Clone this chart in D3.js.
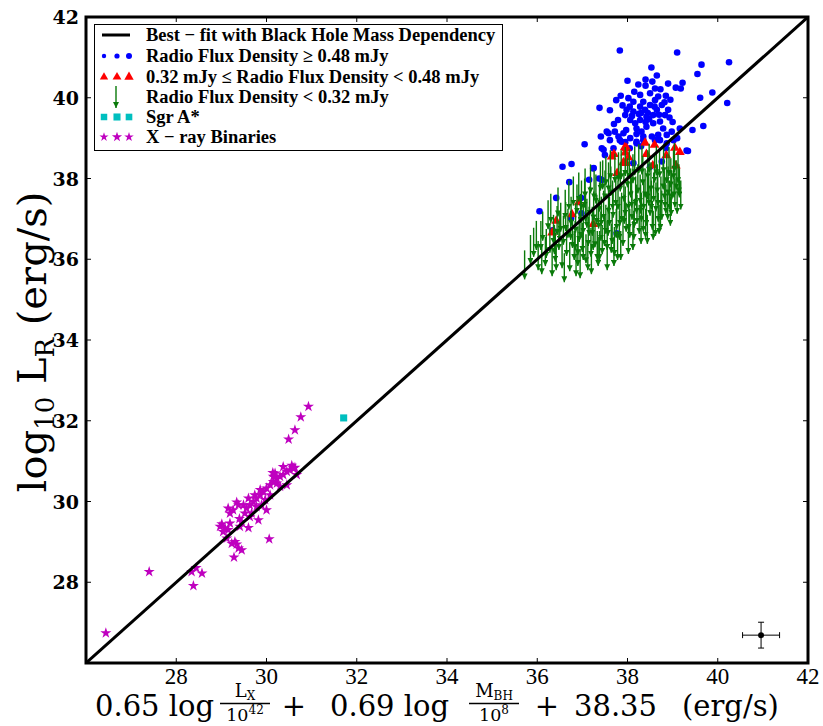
<!DOCTYPE html>
<html>
<head>
<meta charset="utf-8">
<script src="https://cdnjs.cloudflare.com/ajax/libs/d3/7.8.5/d3.min.js"></script>
<style>
  body { margin: 0; background: #fff; }
  svg { display: block; }
</style>
</head>
<body>
<div id="chart"></div>
<script>
// axis ticks
var xTicks = [28, 30, 32, 34, 36, 38, 40, 42];
var yTicks = [28, 30, 32, 34, 36, 38, 40, 42];

// best-fit line end points
var fitLine = [[26, 26], [42, 42]];

// Radio flux density >= 0.48 mJy
var brightPts = [
  [37.83, 41.17], [39.10, 41.12], [38.53, 40.75], [39.64, 40.82], [39.55, 40.59], [39.88, 40.13],
  [38.00, 40.42], [38.24, 40.33], [38.40, 40.45], [39.22, 40.37], [39.07, 40.25], [39.18, 40.23],
  [39.61, 40.00], [39.68, 39.30], [39.44, 39.20], [39.34, 38.68], [37.05, 38.85], [37.38, 39.75],
  [37.61, 39.69], [37.75, 39.94], [37.89, 39.81], [38.73, 40.21], [38.82, 39.89], [38.93, 39.51],
  [37.41, 39.04], [37.43, 38.75], [37.58, 39.12], [37.79, 39.45], [37.97, 39.20], [38.02, 39.99],
  [38.13, 39.90], [38.28, 39.78], [38.39, 39.70], [38.50, 39.82], [38.61, 39.94], [38.68, 40.03],
  [38.76, 39.82], [38.65, 39.70], [38.57, 39.57], [38.42, 39.53], [38.28, 39.45], [38.17, 39.37],
  [38.06, 39.45], [37.95, 39.57], [37.98, 39.70], [38.13, 39.66], [38.20, 39.24], [38.31, 39.16],
  [38.42, 39.28], [38.57, 39.37], [38.72, 39.41], [38.79, 39.24], [38.68, 39.08], [38.54, 39.04],
  [38.35, 38.95], [38.20, 38.91], [38.06, 39.00], [37.91, 39.12], [37.72, 39.16], [37.61, 38.95],
  [37.87, 38.91], [38.72, 38.95], [38.87, 38.87], [39.02, 38.95], [38.83, 39.57], [38.98, 39.16],
  [38.50, 40.11], [38.61, 40.23], [38.35, 39.90], [38.28, 40.07], [39.16, 39.24], [37.80, 39.04],
  [36.05, 37.19], [36.42, 37.52], [36.71, 37.91], [36.56, 38.29], [36.76, 38.36], [37.25, 38.26],
  [37.15, 37.97], [37.76, 36.64], [36.97, 37.52], [40.25, 40.88], [40.21, 39.87], [37.24, 38.25],
  [36.98, 37.14], [36.75, 37.01], [36.34, 36.72], [37.37, 38.00], [37.47, 38.71], [37.54, 39.16],
  [37.50, 38.58], [37.69, 38.75], [37.83, 38.95], [38.20, 38.87], [38.35, 39.04], [38.61, 38.95],
  [38.87, 39.08], [39.31, 38.69], [37.43, 37.96], [38.13, 38.38], [38.50, 38.29], [38.76, 38.42],
  [38.45, 39.62], [38.05, 39.78], [38.70, 39.58], [38.25, 39.60], [38.90, 39.70], [38.40, 39.40],
  [38.10, 39.55], [38.30, 39.62], [38.48, 39.47], [38.60, 39.78], [38.85, 40.05], [38.15, 40.15],
  [37.85, 40.05], [38.95, 39.95], [39.00, 39.40], [38.40, 40.30], [38.55, 40.40], [38.90, 40.35],
  [38.20, 39.10], [37.70, 39.35], [38.05, 38.75], [38.30, 38.80], [38.85, 38.75], [39.10, 39.00],
  [38.65, 40.55], [37.95, 38.90]
];

// 0.32 mJy <= radio flux density < 0.48 mJy
var midPts = [
  [36.42, 36.95], [37.94, 38.77], [37.95, 38.64], [38.39, 38.88], [38.60, 38.83], [38.42, 38.60],
  [39.05, 38.76], [39.16, 38.65], [38.86, 38.57], [39.07, 38.32], [37.65, 38.54], [37.97, 38.38],
  [38.56, 38.32], [36.92, 37.41], [36.77, 37.11], [37.77, 38.13], [36.33, 36.66], [37.24, 36.87],
  [37.70, 38.60], [37.91, 38.40], [37.98, 38.75], [38.02, 38.52]
];

// radio flux density < 0.32 mJy (upper limits, arrow starts)
var limitPts = [
  [35.72, 36.22], [35.85, 36.60], [35.92, 36.78], [36.02, 36.45], [36.08, 36.95], [36.12, 37.18],
  [36.18, 36.55], [36.24, 37.46], [36.28, 36.88], [36.33, 36.30], [36.36, 37.10], [36.40, 36.66],
  [36.44, 37.32], [36.48, 36.95], [36.52, 37.40], [36.55, 36.50], [36.58, 37.08], [36.62, 37.72],
  [36.65, 36.80], [36.68, 37.25], [36.72, 36.42], [36.75, 37.55], [36.78, 37.00], [36.82, 36.70],
  [36.85, 37.38], [36.88, 37.85], [36.90, 36.55], [36.93, 37.15], [36.96, 37.62], [37.00, 36.90],
  [37.02, 37.35], [37.05, 38.00], [37.08, 36.62], [37.10, 37.50], [37.13, 37.05], [37.16, 37.80],
  [37.19, 36.78], [37.22, 37.30], [37.25, 37.68], [37.28, 37.02], [37.30, 38.10], [37.33, 36.70],
  [37.36, 37.48], [37.38, 37.90], [37.41, 37.18], [37.44, 36.85], [37.47, 37.70], [37.50, 38.20],
  [37.52, 37.35], [37.55, 36.95], [37.58, 37.85], [37.60, 37.55], [37.63, 38.30], [37.66, 37.10],
  [37.68, 37.75], [37.71, 36.80], [37.74, 38.05], [37.76, 37.45], [37.79, 37.95], [37.82, 37.20],
  [37.84, 38.40], [37.87, 37.65], [37.90, 37.05], [37.92, 38.15], [37.95, 37.80], [37.97, 37.40],
  [38.00, 38.50], [38.02, 37.95], [38.05, 37.25], [38.07, 38.25], [38.10, 37.70], [38.12, 38.60],
  [38.15, 37.50], [38.18, 38.05], [38.20, 37.85], [38.23, 38.35], [38.26, 37.35], [38.28, 38.10],
  [38.31, 37.65], [38.34, 38.55], [38.36, 37.95], [38.39, 38.25], [38.42, 37.55], [38.45, 38.70],
  [38.47, 38.05], [38.50, 37.80], [38.52, 38.40], [38.55, 37.45], [38.58, 38.15], [38.60, 38.62],
  [38.63, 37.90], [38.66, 38.35], [38.68, 37.65], [38.71, 38.75], [38.74, 38.05], [38.76, 37.70],
  [38.79, 38.45], [38.82, 38.20], [38.85, 37.85], [38.87, 38.60], [38.90, 38.30], [38.93, 37.95],
  [38.96, 38.50], [38.98, 38.20], [39.02, 38.70], [39.05, 38.00], [39.08, 38.45], [39.12, 38.60],
  [39.15, 38.25], [39.18, 37.95], [37.70, 36.55], [37.85, 36.70], [37.55, 36.45], [38.02, 36.85],
  [38.30, 37.10], [38.62, 37.30], [38.95, 37.55], [36.95, 36.25], [37.20, 36.35], [36.60, 36.15],
  [37.62, 38.70], [37.95, 38.78], [38.25, 38.85], [37.80, 38.65], [37.45, 38.45], [36.98, 37.95],
  [37.12, 36.45], [37.35, 36.55], [37.02, 36.70], [36.86, 36.30], [37.64, 36.88], [38.40, 37.25],
  [36.30, 37.62], [36.46, 37.78], [36.70, 37.95], [36.80, 38.05], [36.92, 38.15], [37.06, 38.25],
  [37.18, 38.35], [37.26, 38.20], [37.40, 38.42], [37.52, 38.55], [37.58, 38.40], [37.72, 38.62],
  [37.86, 38.70], [38.04, 38.72], [38.16, 38.80], [38.32, 38.82], [38.48, 38.86], [38.64, 38.80],
  [38.80, 38.85], [38.92, 38.78], [39.04, 38.88], [36.38, 36.85], [36.50, 37.15], [36.63, 37.42],
  [36.74, 37.20], [36.84, 36.95], [36.97, 37.25], [37.07, 37.65], [37.15, 37.30], [37.24, 36.95],
  [37.32, 37.60], [37.42, 37.55], [37.49, 37.05], [37.57, 37.30], [37.67, 37.95], [37.75, 37.25],
  [37.83, 37.55], [37.93, 37.60], [38.03, 37.45], [38.09, 38.00], [38.14, 37.20], [38.21, 37.60],
  [38.29, 37.85], [38.35, 37.40], [38.44, 38.20], [38.53, 37.95], [38.57, 37.20], [38.67, 38.05],
  [38.73, 37.45], [38.83, 38.00], [38.89, 37.70], [38.97, 37.80], [39.03, 38.25], [39.10, 37.85],
  [39.14, 38.35], [36.20, 36.75], [36.10, 36.35], [35.98, 36.95], [36.42, 36.45], [36.90, 36.82],
  [37.38, 36.70], [37.78, 36.70], [38.12, 36.95], [38.44, 37.10], [38.70, 37.35]
];
var limitLength = 0.72;

// Sgr A*
var sgrPts = [[31.71, 32.07]];

// X-ray binaries
var xrbPts = [
  [26.44, 26.74], [27.40, 28.26], [28.38, 27.91], [28.34, 28.26], [28.57, 28.22], [28.44, 28.36],
  [30.93, 32.35], [30.76, 32.09], [30.63, 31.77], [30.49, 31.54], [30.06, 29.07], [29.28, 28.62],
  [29.01, 29.44], [29.04, 29.25], [29.15, 29.30], [29.19, 29.71], [29.26, 29.79], [29.34, 29.98],
  [29.40, 29.57], [29.45, 29.50], [29.56, 29.83], [29.63, 29.91], [29.71, 29.99], [29.78, 30.08],
  [29.86, 30.16], [29.93, 30.24], [30.00, 30.33], [30.08, 30.41], [30.15, 30.49], [30.23, 30.57],
  [30.30, 30.62], [30.37, 30.66], [30.45, 30.74], [30.52, 30.78], [30.60, 30.82], [30.63, 30.84],
  [30.67, 30.66], [30.19, 30.70], [30.23, 30.45], [30.30, 30.37], [30.45, 30.41], [30.00, 29.79],
  [29.82, 29.54], [29.60, 29.35], [29.41, 29.38], [29.30, 29.00], [29.38, 28.84], [29.45, 28.80],
  [29.34, 28.94], [29.23, 28.96], [29.12, 29.09], [29.78, 29.87], [29.67, 29.71], [29.52, 29.71],
  [29.49, 29.91], [29.86, 30.29], [30.08, 30.16], [29.97, 30.04], [29.60, 30.08], [29.74, 30.16],
  [30.37, 30.86], [30.56, 30.89], [30.15, 30.62], [29.38, 29.91], [29.63, 29.62], [29.89, 29.91],
  [29.19, 29.46], [29.08, 29.34], [28.97, 29.38], [29.15, 29.83], [30.14, 30.71], [30.59, 30.82]
];

// typical uncertainty marker
var errPt = [40.96, 26.69];
var errX = 0.41;
var errY = 0.32;

var legendLabels = [
  "Best \u2212 fit with Black Hole Mass Dependency",
  "Radio Flux Density \u2265 0.48 mJy",
  "0.32 mJy \u2264 Radio Flux Density < 0.48 mJy",
  "Radio Flux Density < 0.32 mJy",
  "Sgr A*",
  "X \u2212 ray  Binaries"
];

var width = 823, height = 726;
var margin = {top: 17, right: 15, bottom: 63, left: 86};

var svg = d3.select("#chart").append("svg")
    .attr("width", width).attr("height", height);

var x = d3.scaleLinear().domain([26, 42]).range([margin.left, width - margin.right]);
var y = d3.scaleLinear().domain([26, 42]).range([height - margin.bottom, margin.top]);

var defs = svg.append("defs");
defs.append("marker").attr("id", "head")
    .attr("markerUnits", "userSpaceOnUse")
    .attr("markerWidth", 6).attr("markerHeight", 6)
    .attr("viewBox", "0 0 6 6").attr("refX", 6).attr("refY", 3)
    .attr("orient", "auto")
    .append("path").attr("d", "M0,0 L6,3 L0,6 z").attr("fill", "#0a7a0a");
defs.append("clipPath").attr("id", "plotClip").append("rect")
    .attr("x", x(26)).attr("y", y(42)).attr("width", x(42) - x(26)).attr("height", y(26) - y(42));

var plot = svg.append("g").attr("clip-path", "url(#plotClip)");

var blue = "#0000ff", red = "#ff0000", green = "#0a7a0a", cyan = "#00bfbf", magenta = "#bf00bf";

// blue dots
plot.selectAll(".bright").data(brightPts).enter().append("circle")
    .attr("cx", function(d) { return x(d[0]); })
    .attr("cy", function(d) { return y(d[1]); })
    .attr("r", 3.3).attr("fill", blue);

// red triangles
var tri = d3.symbol().type(d3.symbolTriangle).size(42);
plot.selectAll(".mid").data(midPts).enter().append("path")
    .attr("d", tri)
    .attr("transform", function(d) { return "translate(" + x(d[0]) + "," + y(d[1]) + ")"; })
    .attr("fill", red);

// green upper limit arrows
plot.selectAll(".lim").data(limitPts).enter().append("line")
    .attr("x1", function(d) { return x(d[0]); })
    .attr("x2", function(d) { return x(d[0]); })
    .attr("y1", function(d) { return y(d[1]); })
    .attr("y2", function(d) { return y(d[1] - limitLength); })
    .attr("stroke", green).attr("stroke-width", 1.4)
    .attr("marker-end", "url(#head)");

// Sgr A*
var sq = d3.symbol().type(d3.symbolSquare).size(50);
plot.selectAll(".sgr").data(sgrPts).enter().append("path")
    .attr("d", sq)
    .attr("transform", function(d) { return "translate(" + x(d[0]) + "," + y(d[1]) + ")"; })
    .attr("fill", cyan);

// x-ray binaries
var star = d3.symbol().type(d3.symbolStar).size(38);
plot.selectAll(".xrb").data(xrbPts).enter().append("path")
    .attr("d", star)
    .attr("transform", function(d) { return "translate(" + x(d[0]) + "," + y(d[1]) + ")"; })
    .attr("fill", magenta);

// best fit line
plot.append("line")
    .attr("x1", x(fitLine[0][0])).attr("y1", y(fitLine[0][1]))
    .attr("x2", x(fitLine[1][0])).attr("y2", y(fitLine[1][1]))
    .attr("stroke", "#000").attr("stroke-width", 3);

// error sample
var eg = svg.append("g").attr("stroke", "#000").attr("stroke-width", 1);
eg.append("line").attr("x1", x(errPt[0] - errX)).attr("x2", x(errPt[0] + errX))
    .attr("y1", y(errPt[1])).attr("y2", y(errPt[1]));
eg.append("line").attr("x1", x(errPt[0])).attr("x2", x(errPt[0]))
    .attr("y1", y(errPt[1] - errY)).attr("y2", y(errPt[1] + errY));
[errPt[0] - errX, errPt[0] + errX].forEach(function(v) {
    eg.append("line").attr("x1", x(v)).attr("x2", x(v))
        .attr("y1", y(errPt[1]) - 3).attr("y2", y(errPt[1]) + 3);
});
[errPt[1] - errY, errPt[1] + errY].forEach(function(v) {
    eg.append("line").attr("x1", x(errPt[0]) - 3).attr("x2", x(errPt[0]) + 3)
        .attr("y1", y(v)).attr("y2", y(v));
});
svg.append("circle").attr("cx", x(errPt[0])).attr("cy", y(errPt[1])).attr("r", 3).attr("fill", "#000");

// ticks on all four sides, pointing in
var tickG = svg.append("g").attr("stroke", "#000").attr("stroke-width", 1);
xTicks.forEach(function(t) {
    tickG.append("line").attr("x1", x(t)).attr("x2", x(t)).attr("y1", y(26)).attr("y2", y(26) - 5);
    tickG.append("line").attr("x1", x(t)).attr("x2", x(t)).attr("y1", y(42)).attr("y2", y(42) + 5);
});
yTicks.forEach(function(t) {
    tickG.append("line").attr("x1", x(26)).attr("x2", x(26) + 5).attr("y1", y(t)).attr("y2", y(t));
    tickG.append("line").attr("x1", x(42)).attr("x2", x(42) - 5).attr("y1", y(t)).attr("y2", y(t));
});

// frame
svg.append("rect")
    .attr("x", x(26)).attr("y", y(42))
    .attr("width", x(42) - x(26)).attr("height", y(26) - y(42))
    .attr("fill", "none").attr("stroke", "#000").attr("stroke-width", 3);

// tick labels
svg.selectAll(".xlab").data(xTicks).enter().append("text")
    .attr("x", function(d) { return x(d); })
    .attr("y", y(26) + 21)
    .attr("text-anchor", "middle")
    .style("font-family", "Liberation Serif, serif").style("font-size", "23px")
    .text(function(d) { return d; });
svg.selectAll(".ylab").data(yTicks).enter().append("text")
    .attr("x", x(26) - 7)
    .attr("y", function(d) { return y(d) + 7; })
    .attr("text-anchor", "end")
    .style("font-family", "DejaVu Serif, serif").style("font-weight", "bold").style("font-size", "19px")
    .text(function(d) { return d; });

// legend
var lg = svg.append("g");
lg.append("rect").attr("x", 94.5).attr("y", 24.5).attr("width", 408).attr("height", 126)
    .attr("fill", "#fff").attr("stroke", "#000").attr("stroke-width", 1);
var rowY = [35, 56, 77, 97, 117, 137];
var mx = [104, 117, 129];
lg.append("line").attr("x1", 102).attr("x2", 130).attr("y1", rowY[0]).attr("y2", rowY[0])
    .attr("stroke", "#000").attr("stroke-width", 3);
[2.2, 2.6, 3].forEach(function(r, i) {
    lg.append("circle").attr("cx", mx[i]).attr("cy", rowY[1]).attr("r", r).attr("fill", blue);
});
[30, 34, 38].forEach(function(s, i) {
    lg.append("path").attr("d", d3.symbol().type(d3.symbolTriangle).size(s))
        .attr("transform", "translate(" + mx[i] + "," + rowY[2] + ")").attr("fill", red);
});
lg.append("line").attr("x1", 116).attr("x2", 116).attr("y1", rowY[3] - 11).attr("y2", rowY[3] + 11)
    .attr("stroke", green).attr("stroke-width", 1.4).attr("marker-end", "url(#head)");
[42, 50, 44].forEach(function(s, i) {
    lg.append("path").attr("d", d3.symbol().type(d3.symbolSquare).size(s))
        .attr("transform", "translate(" + mx[i] + "," + rowY[4] + ")").attr("fill", cyan);
});
[26, 32, 28].forEach(function(s, i) {
    lg.append("path").attr("d", d3.symbol().type(d3.symbolStar).size(s))
        .attr("transform", "translate(" + mx[i] + "," + rowY[5] + ")").attr("fill", magenta);
});
lg.selectAll(".lt").data(legendLabels).enter().append("text")
    .attr("x", 146)
    .attr("y", function(d, i) { return rowY[i] + 6; })
    .style("font-family", "Liberation Serif, serif").style("font-weight", "bold").style("font-size", "18.5px")
    .text(function(d) { return d; });

// y axis label
var yl = svg.append("text")
    .attr("transform", "translate(46," + 342 + ") rotate(-90)")
    .attr("text-anchor", "middle")
    .style("font-family", "DejaVu Serif, serif").style("font-size", "40px");
yl.append("tspan").text("log");
yl.append("tspan").attr("dy", 8).style("font-size", "26px").text("10");
yl.append("tspan").attr("dy", -8).text(" L");
yl.append("tspan").attr("dy", 8).style("font-size", "26px").text("R");
yl.append("tspan").attr("dy", -8).text(" (erg/s)");

// x axis label built from pieces
var xf = "DejaVu Serif, serif";
var xb = 716;
function put(t, px, anchor) {
    return svg.append("text").attr("x", px).attr("y", xb).attr("text-anchor", anchor || "start")
        .style("font-family", xf).style("font-size", "29px").text(t);
}
put("0.65 log", 95);
function frac(cx, numMain, numSub, denMain, denSup) {
    var n = svg.append("text").attr("x", cx).attr("y", 697).attr("text-anchor", "middle")
        .style("font-family", xf).style("font-size", "18px");
    n.append("tspan").text(numMain);
    n.append("tspan").attr("dy", 3).style("font-size", "12px").text(numSub);
    svg.append("line").attr("x1", cx - 25).attr("x2", cx + 25).attr("y1", 703.5).attr("y2", 703.5)
        .attr("stroke", "#000").attr("stroke-width", 1.3);
    var dn = svg.append("text").attr("x", cx).attr("y", 721).attr("text-anchor", "middle")
        .style("font-family", xf).style("font-size", "17.5px");
    dn.append("tspan").text(denMain);
    dn.append("tspan").attr("dy", -7).style("font-size", "12px").text(denSup);
}
frac(245, "L", "X", "10", "42");
put("+", 294, "middle");
put("0.69 log", 330);
frac(494, "M", "BH", "10", "8");
put("+", 547, "middle");
put("38.35", 574);
put("(erg/s)", 682);
</script>
</body>
</html>
